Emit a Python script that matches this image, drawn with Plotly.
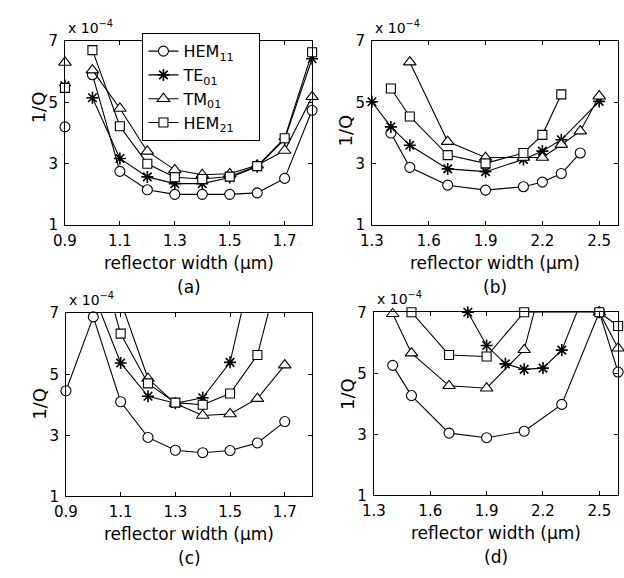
import plotly.graph_objects as go

W, H = 624, 578

# ---------------- data (1/Q in units of 1e-4) ----------------
# panel (a)
XA = [0.9, 1.0, 1.1, 1.2, 1.3, 1.4, 1.5, 1.6, 1.7, 1.8]
A_HEM11 = [4.2, 5.9, 2.75, 2.15, 2.0, 2.0, 2.0, 2.05, 2.52, 4.74]
A_TE01 = [5.55, 5.15, 3.17, 2.57, 2.35, 2.35, 2.55, 2.9, 3.8, 6.42]
A_TM01 = [6.3, 6.05, 4.8, 3.4, 2.8, 2.64, 2.67, 2.95, 3.43, 5.18]
A_HEM21 = [5.47, 6.7, 4.22, 3.0, 2.56, 2.5, 2.58, 2.92, 3.83, 6.63]

# panel (b)
XB_HEM11 = [1.4, 1.5, 1.7, 1.9, 2.1, 2.2, 2.3, 2.4]
B_HEM11 = [4.0, 2.88, 2.3, 2.14, 2.25, 2.4, 2.68, 3.35]
XB_TE01 = [1.3, 1.4, 1.5, 1.7, 1.9, 2.1, 2.2, 2.3, 2.5]
B_TE01 = [5.02, 4.2, 3.6, 2.83, 2.74, 3.14, 3.41, 3.78, 5.03]
XB_TM01 = [1.5, 1.7, 1.9, 2.1, 2.2, 2.3, 2.4, 2.5]
B_TM01 = [6.31, 3.72, 3.2, 3.2, 3.2, 3.62, 4.06, 5.2]
XB_HEM21 = [1.4, 1.5, 1.7, 1.9, 2.1, 2.2, 2.3]
B_HEM21 = [5.45, 4.54, 3.28, 3.01, 3.35, 3.94, 5.26]

# panel (c)
XC_HEM11 = [0.9, 1.0, 1.1, 1.2, 1.3, 1.4, 1.5, 1.6, 1.7]
C_HEM11 = [4.46, 6.88, 4.1, 2.93, 2.51, 2.43, 2.5, 2.75, 3.45]
XC_TE01 = [1.0, 1.1, 1.2, 1.3, 1.4, 1.5, 1.6]
C_TE01 = [7.65, 5.37, 4.28, 4.05, 4.23, 5.39, 9.3]
XC_TM01 = [1.1, 1.2, 1.3, 1.4, 1.5, 1.6, 1.7]
C_TM01 = [7.4, 4.86, 4.04, 3.65, 3.7, 4.2, 5.3]
XC_HEM21 = [1.0, 1.1, 1.2, 1.3, 1.4, 1.5, 1.6, 1.7]
C_HEM21 = [9.5, 6.33, 4.7, 4.07, 4.0, 4.37, 5.63, 9.1]

# panel (d)
XD_HEM11 = [1.4, 1.5, 1.7, 1.9, 2.1, 2.3, 2.5, 2.6]
D_HEM11 = [5.26, 4.27, 3.04, 2.89, 3.1, 3.98, 7.0, 5.04]
XD_TE01 = [1.8, 1.9, 2.0, 2.1, 2.2, 2.3, 2.4, 2.5]
D_TE01 = [7.0, 5.91, 5.31, 5.13, 5.17, 5.76, 7.3, 7.0]
XD_TM01 = [1.4, 1.5, 1.7, 1.9, 2.1, 2.2, 2.5, 2.6]
D_TM01 = [6.95, 5.66, 4.59, 4.51, 5.77, 8.1, 7.0, 5.82]
XD_HEM21 = [1.5, 1.7, 1.9, 2.1, 2.5, 2.6]
D_HEM21 = [7.0, 5.6, 5.55, 7.0, 7.0, 6.55]

MODES = ["HEM<sub>11</sub>", "TE<sub>01</sub>", "TM<sub>01</sub>", "HEM<sub>21</sub>"]
XTICKS_AC = [0.9, 1.1, 1.3, 1.5, 1.7]
XTICKS_BD = [1.3, 1.6, 1.9, 2.2, 2.5]
YTICKS = [1, 3, 5, 7]
PANEL_LABELS = ["(a)", "(b)", "(c)", "(d)"]
XTITLE = "reflector width (μm)"
YTITLE = "1/Q"

# ---------------- styles ----------------
FONT = "DejaVu Sans"
STYLES = [
    dict(symbol="circle", size=10, color="white", line=dict(color="black", width=1.1)),
    dict(symbol="asterisk-open", size=10, color="black", line=dict(color="black", width=1.6)),
    dict(symbol="triangle-up", size=11, color="white", line=dict(color="black", width=1.1)),
    dict(symbol="square", size=9, color="white", line=dict(color="black", width=1.1)),
]

# plot-area boxes in pixels: (left, right, top, bottom)
BOXES = [(54, 306, 33, 223), (367, 618, 33, 223), (55, 306, 314, 503), (369, 618, 313, 502)]
XRANGES = [[0.9, 1.8], [1.3, 2.6], [0.9, 1.8], [1.3, 2.6]]
YLAB_Y = [101, 125, 407, 397]


def px2x(p):
    return p / W


def px2y(p):
    return 1 - p / H


fig = go.Figure()

panels = [
    [(XA, A_HEM11), (XA, A_TE01), (XA, A_TM01), (XA, A_HEM21)],
    [(XB_HEM11, B_HEM11), (XB_TE01, B_TE01), (XB_TM01, B_TM01), (XB_HEM21, B_HEM21)],
    [(XC_HEM11, C_HEM11), (XC_TE01, C_TE01), (XC_TM01, C_TM01), (XC_HEM21, C_HEM21)],
    [(XD_HEM11, D_HEM11), (XD_TE01, D_TE01), (XD_TM01, D_TM01), (XD_HEM21, D_HEM21)],
]

NBSP = "\u00a0"
for p, series in enumerate(panels):
    xa = "x" if p == 0 else f"x{p+1}"
    ya = "y" if p == 0 else f"y{p+1}"
    for k, (xs, ys) in enumerate(series):
        if p == 0:
            # first point in panel (a) is not connected to the curve
            fig.add_trace(go.Scatter(x=xs[:1], y=ys[:1], mode="markers", marker=STYLES[k],
                                     showlegend=False, cliponaxis=False, xaxis=xa, yaxis=ya,
                                     hoverinfo="skip"))
            xs, ys = xs[1:], ys[1:]
        fig.add_trace(go.Scatter(
            x=xs, y=ys, mode="lines+markers", name=MODES[k] + NBSP * 4,
            line=dict(color="black", width=1.1), marker=STYLES[k],
            showlegend=(p == 0), cliponaxis=False, xaxis=xa, yaxis=ya))

layout = dict(
    width=W, height=H, margin=dict(l=0, r=0, t=0, b=0),
    paper_bgcolor="white", plot_bgcolor="white",
    font=dict(family=FONT, size=16, color="black"),
    showlegend=True,
    legend=dict(x=px2x(133), y=px2y(25), xanchor="left", yanchor="top",
                bgcolor="white", bordercolor="black", borderwidth=1,
                font=dict(family=FONT, size=16, color="black"),
                tracegroupgap=0, itemwidth=30),
)

annotations = []
for p in range(4):
    l, r, t, b = BOXES[p]
    sx = "" if p == 0 else str(p + 1)
    axcommon = dict(showline=True, linecolor="black", linewidth=1, mirror="ticks",
                    ticks="inside", ticklen=4, tickcolor="black", showgrid=False,
                    zeroline=False, tickfont=dict(family=FONT, size=15, color="black"))
    layout["xaxis" + sx] = dict(domain=[px2x(l), px2x(r)], range=XRANGES[p],
                                tickvals=XTICKS_AC if p in (0, 2) else XTICKS_BD,
                                tickformat=".1f", anchor="y" + sx, ticklabelstandoff=2,
                                **axcommon)
    layout["yaxis" + sx] = dict(domain=[px2y(b), px2y(t)], range=[1, 7], tickvals=YTICKS,
                                anchor="x" + sx, ticklabelstandoff=3, **axcommon)
    cx = (l + r) / 2
    annotations.append(dict(text=XTITLE, x=px2x(cx), y=px2y(b + 39), xref="paper", yref="paper",
                            showarrow=False, xanchor="center", yanchor="middle",
                            font=dict(family=FONT, size=17)))
    annotations.append(dict(text=PANEL_LABELS[p], x=px2x(cx), y=px2y(b + 64), xref="paper",
                            yref="paper", showarrow=False, xanchor="center", yanchor="middle",
                            font=dict(family=FONT, size=17)))
    annotations.append(dict(text=YTITLE, x=px2x(l - 27), y=px2y(YLAB_Y[p]), xref="paper",
                            yref="paper", showarrow=False, textangle=-90, xanchor="center",
                            yanchor="middle", font=dict(family=FONT, size=18)))
    annotations.append(dict(text="x 10<sup>−4</sup>", x=px2x(l + 1), y=px2y(t - 3), xref="paper",
                            yref="paper", showarrow=False, xanchor="left", yanchor="bottom",
                            font=dict(family=FONT, size=14)))

layout["annotations"] = annotations
fig.update_layout(**layout)
fig.write_html("out.html", config={"displayModeBar": False},
               post_script="document.body.style.margin='0px';")
